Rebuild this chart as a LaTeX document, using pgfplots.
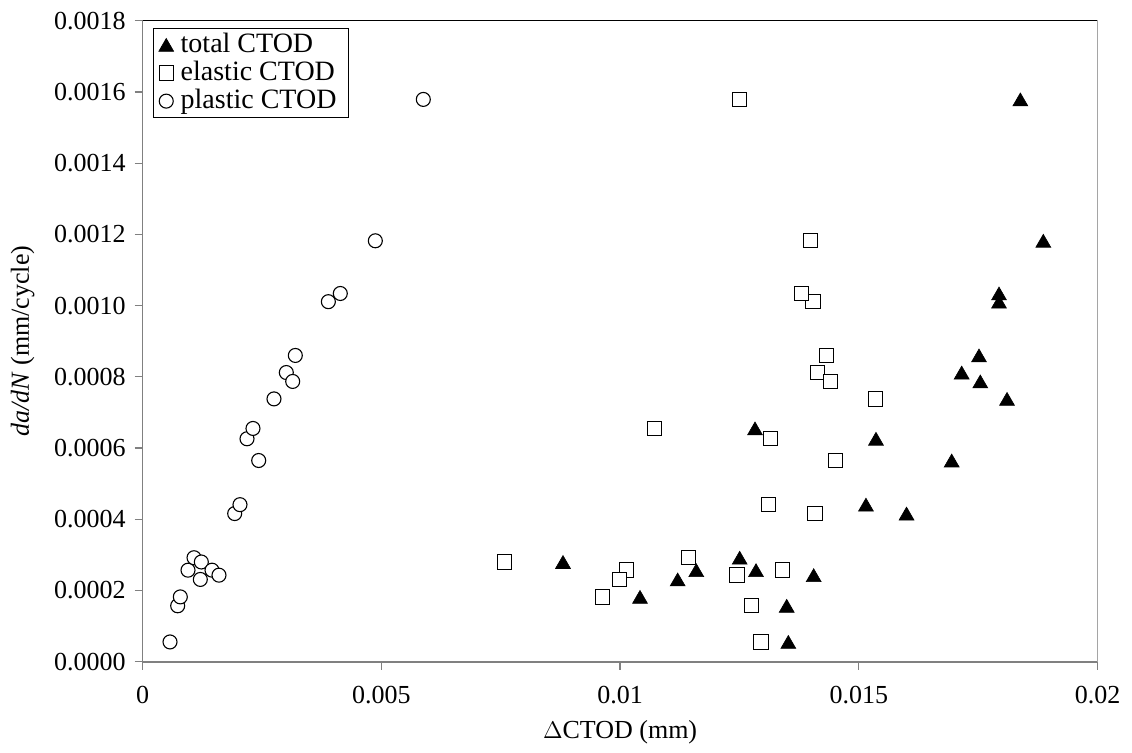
\documentclass[border=0pt]{standalone}
\usepackage{fontspec}
\setmainfont{Liberation Serif}
\usepackage{pgfplots}
\pgfplotsset{compat=1.18}
\begin{document}
\fontsize{13}{15.6}\selectfont
\begin{tikzpicture}
\useasboundingbox (-71.35pt,-45.15pt) rectangle (494.65pt,330.85pt);
\begin{axis}[
  at={(0,0)}, anchor=south west,
  scale only axis, width=477.4pt, height=320.5pt,
  xmin=0, xmax=0.02, ymin=0, ymax=0.0018,
  xtick={0,0.005,0.01,0.015,0.02},
  ytick={0,0.0002,0.0004,0.0006,0.0008,0.001,0.0012,0.0014,0.0016,0.0018},
  scaled x ticks=false, scaled y ticks=false,
  /pgf/number format/assume math mode=true,
  xticklabel style={/pgf/number format/.cd, fixed, precision=3, /tikz/.cd, yshift=-3.5pt},
  yticklabel style={/pgf/number format/.cd, fixed, fixed zerofill, precision=4},
  ticklabel style={font=\fontsize{13}{15.6}\selectfont},
  axis x line*=bottom, axis y line*=left,
  axis line style={-, draw=gray, line width=0.8pt},
  tick align=outside, major tick length=4pt,
  tick style={gray, line width=0.6pt},
  xlabel={$\Delta$CTOD (mm)},
  ylabel={\textit{da/dN} (mm/cycle)},
  xlabel style={at={(axis description cs:0.5,-0.1098)}, anchor=center, font=\fontsize{13}{15.6}\selectfont},
  ylabel style={at={(axis description cs:-0.1257,0.5)}, anchor=center, rotate=0, font=\fontsize{13}{15.6}\selectfont},
  legend cell align=left,
  legend style={at={(axis description cs:0,1)}, anchor=north west, xshift=5.3pt, yshift=-3.8pt,
    draw=black, line width=0.5pt, inner xsep=2.5pt, inner ysep=1pt, row sep=0pt,
    font=\fontsize{14}{16.8}\selectfont, nodes={inner xsep=3.5pt, inner ysep=1.2pt}},
]
\addplot[only marks, mark=triangle*, mark size=4.3pt, mark options={fill=black, draw=black, line width=0.3pt, yshift=-1.08pt}] coordinates {
(0.013524,0.0000555) (0.01349,0.000157) (0.010417,0.000182) (0.011596,0.000257)
(0.012505,0.000292) (0.008804,0.000280) (0.011206,0.000231) (0.012847,0.000257)
(0.014055,0.000243) (0.016,0.000416) (0.01515,0.000441) (0.016946,0.000565)
(0.01536,0.000626) (0.012826,0.000655) (0.018105,0.000738) (0.017155,0.000812)
(0.017545,0.000787) (0.017518,0.000860) (0.017937,0.001011) (0.017937,0.001034)
(0.018865,0.001182) (0.018384,0.001579)
};
\addlegendentry{total CTOD}
\addplot[only marks, mark=square*, mark size=3.6pt, mark options={fill=white, draw=black, line width=0.5pt}] coordinates {
(0.012952,0.0000555) (0.012749,0.000157) (0.009627,0.000182) (0.010138,0.000257)
(0.011429,0.000292) (0.007575,0.000280) (0.009984,0.000231) (0.013398,0.000257)
(0.01245,0.000243) (0.014083,0.000416) (0.013113,0.000441) (0.014516,0.000565)
(0.013155,0.000626) (0.010725,0.000655) (0.015354,0.000738) (0.01414,0.000812)
(0.014403,0.000787) (0.01432,0.000860) (0.01404,0.001011) (0.013796,0.001034)
(0.013984,0.001182) (0.012505,0.001579)
};
\addlegendentry{elastic CTOD}
\addplot[only marks, mark=*, mark size=3.5pt, mark options={fill=white, draw=black, line width=0.55pt}] coordinates {
(0.000572,0.0000555) (0.000733,0.000157) (0.000788,0.000182) (0.000949,0.000257)
(0.001075,0.000292) (0.001228,0.000280) (0.001207,0.000231) (0.001452,0.000257)
(0.001598,0.000243) (0.001927,0.000416) (0.002038,0.000441) (0.00243,0.000565)
(0.002185,0.000626) (0.00231,0.000655) (0.00275,0.000738) (0.003008,0.000812)
(0.003142,0.000787) (0.003197,0.000860) (0.003889,0.001011) (0.004139,0.001034)
(0.004873,0.001182) (0.005878,0.001579)
};
\addlegendentry{plastic CTOD}
\draw[black, line width=0.6pt] (rel axis cs:0,1) -- (rel axis cs:1,1) -- (rel axis cs:1,0);
\end{axis}
\end{tikzpicture}
\end{document}
